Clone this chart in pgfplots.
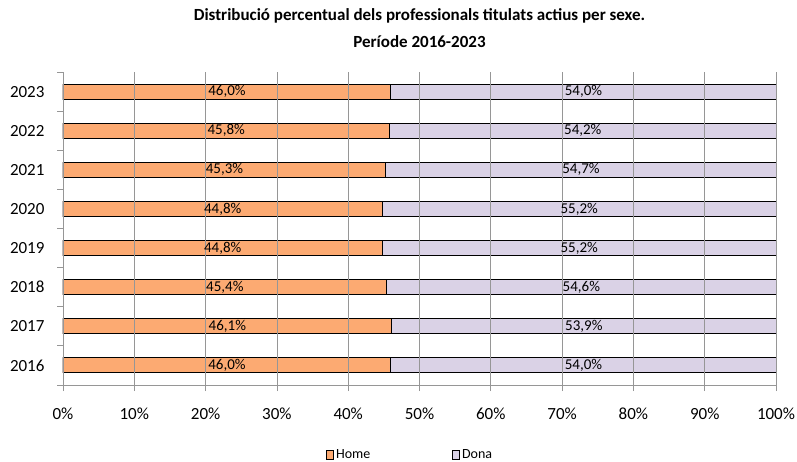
\documentclass[border=0pt]{standalone}
\usepackage{pgfplots}
\pgfplotsset{compat=1.18}
\usepackage{pgfplotstable}
\usepackage{fontspec}
\setmainfont{Carlito}

\definecolor{homecol}{RGB}{252,170,114}
\definecolor{donacol}{RGB}{218,210,230}
\definecolor{gridgray}{RGB}{150,150,150}

% y: position of the year on the axis (1 = 2016)
\pgfplotstableread{
y year home dona
1 2016 46.0 54.0
2 2017 46.1 53.9
3 2018 45.4 54.6
4 2019 44.8 55.2
5 2020 44.8 55.2
6 2021 45.3 54.7
7 2022 45.8 54.2
8 2023 46.0 54.0
}\sexdata

\begin{document}
\begin{tikzpicture}
\begin{axis}[
    name=ax,
    scale only axis,
    width=713pt, height=313pt,
    xmin=0, xmax=100, ymin=0.5, ymax=8.5,
    axis x line*=bottom, axis y line*=left,
    axis line style={gridgray, line width=0.8pt},
    axis on top,
    /pgf/number format/assume math mode=true,
    xtick={0,10,...,100},
    xticklabel={\pgfmathprintnumber{\tick}\%},
    ytick={1,2,3,4,5,6,7,8},
    yticklabels={2016,2017,2018,2019,2020,2021,2022,2023},
    minor ytick={0.5,1.5,...,8.5},
    major y tick style={draw=none},
    tick align=outside,
    major tick length=6pt, minor tick length=6pt,
    tick style={gridgray, line width=0.8pt},
    xmajorgrids,
    grid style={gridgray, line width=0.8pt},
    xticklabel style={font=\fontsize{17}{20}\selectfont, yshift=-13pt},
    yticklabel style={font=\fontsize{17}{20}\selectfont, xshift=-9pt},
    title={Distribució percentual dels professionals titulats actius per sexe.\\Període 2016-2023},
    title style={align=center, font=\bfseries\fontsize{17}{27}\selectfont, yshift=15pt},
    legend style={at={(0.487,0)}, anchor=center, yshift=-70pt, draw=none, fill=none,
        legend columns=2, font=\fontsize{14}{16}\selectfont,
        /tikz/every even column/.append style={column sep=80pt}},
    legend image code/.code={\draw[#1, draw=black, line width=0.8pt] (0pt,-4.5pt) rectangle (7pt,4.5pt);},
]
\addlegendimage{fill=homecol}
\addlegendentry{Home}
\addlegendimage{fill=donacol}
\addlegendentry{Dona}

% full bar for Dona, Home drawn over it
\addplot[xbar, bar width=15pt, bar shift=0pt, fill=donacol, draw=black, line width=1pt, forget plot]
    table[x expr=\thisrow{home}+\thisrow{dona}, y=y]{\sexdata};
\addplot[xbar, bar width=15pt, bar shift=0pt, fill=homecol, draw=black, line width=1pt, forget plot]
    table[x=home, y=y]{\sexdata};

% value labels in the middle of each segment
\addplot[draw=none, mark=none, forget plot, point meta=explicit,
    nodes near coords={\pgfmathprintnumber[fixed,fixed zerofill,precision=1,use comma]{\pgfplotspointmeta}\%},
    every node near coord/.append style={anchor=center, font=\fontsize{15}{17}\selectfont, text=black}]
    table[x expr=\thisrow{home}/2, y=y, meta=home]{\sexdata};
\addplot[draw=none, mark=none, forget plot, point meta=explicit,
    nodes near coords={\pgfmathprintnumber[fixed,fixed zerofill,precision=1,use comma]{\pgfplotspointmeta}\%},
    every node near coord/.append style={anchor=center, font=\fontsize{15}{17}\selectfont, text=black}]
    table[x expr=\thisrow{home}+\thisrow{dona}/2, y=y, meta=dona]{\sexdata};
\end{axis}
\pgfresetboundingbox
\useasboundingbox ([xshift=-63pt, yshift=-76pt]ax.south west) rectangle ++(797pt,461pt);
\end{tikzpicture}
\end{document}
